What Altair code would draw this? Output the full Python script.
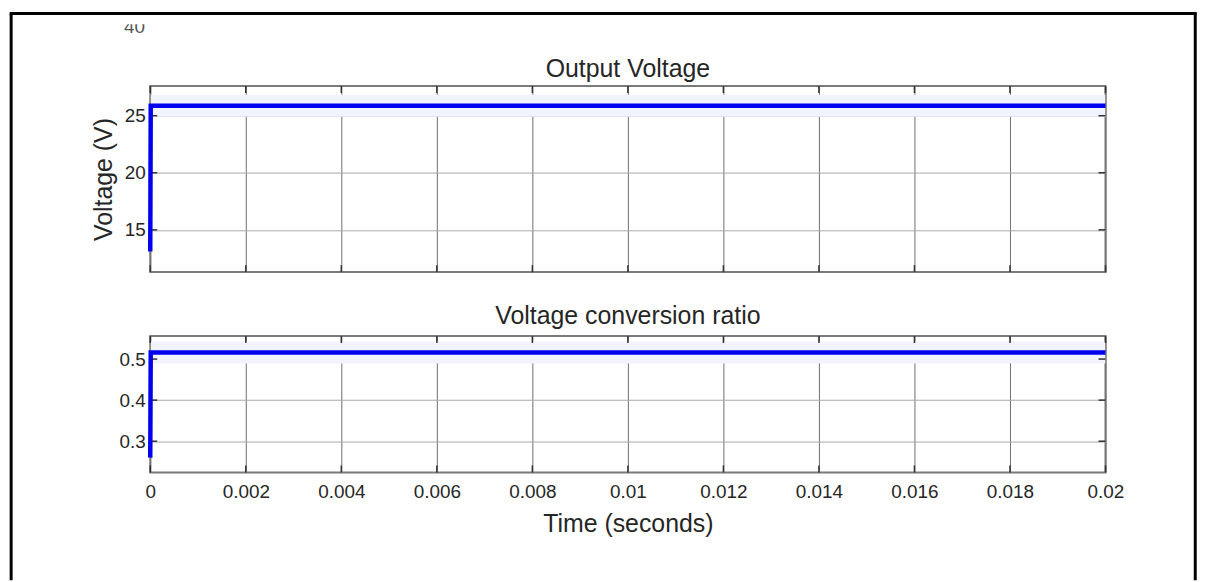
import altair as alt
import pandas as pd

# ---- data ----
time_s = [0.0, 0.00001, 0.02]
voltage = [13.1, 25.87, 25.87]
ratio = [0.26, 0.516, 0.516]

x_ticks = [0, 0.002, 0.004, 0.006, 0.008, 0.01, 0.012, 0.014, 0.016, 0.018, 0.02]
v_ticks = [15, 20, 25]
r_ticks = [0.3, 0.4, 0.5]

v_domain = [11.3, 27.6]
r_domain = [0.224, 0.556]

title_top = "Output Voltage"
title_bot = "Voltage conversion ratio"

W = 960
H_TOP = 187
H_BOT = 137
FONT = "Liberation Sans"
LINE_COLOR = "#0000ee"
HALO = "#f1f3fe"
GRID_X = "#6e6e6e"
GRID_Y = "#a8a8a8"
TEXT = "#262626"

df_v = pd.DataFrame({"t": time_s, "v": voltage})
df_r = pd.DataFrame({"t": time_s, "r": ratio})
df_xt = pd.DataFrame({"t": x_ticks})
df_vt = pd.DataFrame({"v": v_ticks})
df_rt = pd.DataFrame({"r": r_ticks})
one = pd.DataFrame({"k": [0]})

x_scale = alt.Scale(domain=[0, 0.02], nice=False, zero=False)
v_scale = alt.Scale(domain=v_domain, nice=False, zero=False)
r_scale = alt.Scale(domain=r_domain, nice=False, zero=False)

x_axis_top = alt.Axis(values=x_ticks, labels=False, ticks=False, domain=False, title=None,
                      grid=True, gridColor=GRID_X, gridWidth=1, gridOpacity=1)
x_axis_bot = alt.Axis(values=x_ticks, labelExpr="format(datum.value, '~g')", ticks=False,
                      domain=False, grid=True, gridColor=GRID_X, gridWidth=1, gridOpacity=1,
                      title="Time (seconds)", labelFontSize=19, labelFont=FONT, labelColor=TEXT,
                      labelPadding=10, titleFontSize=25, titleFont=FONT, titleFontWeight="normal",
                      titleColor=TEXT, titlePadding=10, labelFlush=False)


def y_axis(vals, title=None):
    kw = dict(values=vals, ticks=False, domain=False, grid=True, gridColor=GRID_Y,
              gridWidth=1, gridOpacity=1, labelFontSize=19, labelFont=FONT, labelColor=TEXT,
              labelPadding=5, labelFlush=False)
    if title is not None:
        kw.update(title=title, titleFontSize=25, titleFont=FONT, titleFontWeight="normal",
                  titleColor=TEXT, titlePadding=8)
    else:
        kw.update(title=None)
    return alt.Axis(**kw)


def tick_layers(df, field, h):
    enc_y = alt.Y(f"{field}:Q")
    return [
        alt.Chart(df).mark_rule(color="#333", strokeWidth=1.5).encode(
            y=enc_y, x=alt.value(W - 7), x2=alt.value(W)),
        alt.Chart(df).mark_rule(color="#333", strokeWidth=1.5).encode(
            y=enc_y, x=alt.value(0), x2=alt.value(7)),
        alt.Chart(df_xt).mark_rule(color="#333", strokeWidth=1.5).encode(
            x="t:Q", y=alt.value(0), y2=alt.value(7)),
        alt.Chart(df_xt).mark_rule(color="#333", strokeWidth=1.5).encode(
            x="t:Q", y=alt.value(h - 7), y2=alt.value(h)),
    ]


def panel_title(text, dy):
    return alt.Chart(one).mark_text(text=text, font=FONT, fontSize=25, color=TEXT,
                                    align="center", baseline="alphabetic").encode(
        x=alt.value(W / 2), y=alt.value(dy))


# ---------------- top panel ----------------
v_halo = alt.Chart(df_v).transform_filter("datum.t > 0").mark_line(
    color=HALO, strokeWidth=22, clip=True).encode(
    x=alt.X("t:Q", scale=x_scale, axis=x_axis_top),
    y=alt.Y("v:Q", scale=v_scale, axis=y_axis(v_ticks, "Voltage (V)")),
)
v_line = alt.Chart(df_v).mark_line(color=LINE_COLOR, strokeWidth=4.5).encode(
    x=alt.X("t:Q", scale=x_scale),
    y=alt.Y("v:Q", scale=v_scale),
)

# page frame and stray label (decoration)
frame_l = alt.Chart(one).mark_rule(color="black", strokeWidth=3).encode(
    x=alt.value(-139.8), y=alt.value(-72.8), y2=alt.value(496.7))
frame_t = alt.Chart(one).mark_rule(color="black", strokeWidth=3).encode(
    x=alt.value(-141.3), x2=alt.value(1051.7), y=alt.value(-72.8))
frame_r = alt.Chart(one).mark_rule(color="black", strokeWidth=3).encode(
    x=alt.value(1050.2), y=alt.value(-72.8), y2=alt.value(496.7))
stray = alt.Chart(one).mark_text(text="40", font=FONT, fontSize=19, color="#555555",
                                 align="right", baseline="alphabetic").encode(
    x=alt.value(-5.3), y=alt.value(-53.3))
stray_cover = alt.Chart(one).mark_rect(color="white").encode(
    x=alt.value(-40), x2=alt.value(-1), y=alt.value(-70.5), y2=alt.value(-62))

top = alt.layer(
    v_halo, *tick_layers(df_vt, "v", H_TOP), v_line,
    panel_title(title_top, -9.3),
    frame_l, frame_t, frame_r, stray, stray_cover,
).properties(width=W, height=H_TOP)

# ---------------- bottom panel ----------------
r_halo = alt.Chart(df_r).transform_filter("datum.t > 0").mark_line(
    color=HALO, strokeWidth=22, clip=True).encode(
    x=alt.X("t:Q", scale=x_scale, axis=x_axis_bot),
    y=alt.Y("r:Q", scale=r_scale, axis=y_axis(r_ticks)),
)
r_line = alt.Chart(df_r).mark_line(color=LINE_COLOR, strokeWidth=4.5).encode(
    x=alt.X("t:Q", scale=x_scale),
    y=alt.Y("r:Q", scale=r_scale),
)

bottom = alt.layer(
    r_halo, *tick_layers(df_rt, "r", H_BOT), r_line,
    panel_title(title_bot, -11.7),
).properties(width=W, height=H_BOT)

chart = alt.vconcat(top, bottom, spacing=64.3, bounds="flush").properties(
    padding={"left": 7, "top": 9, "right": 5, "bottom": 0},
    background="white",
).configure_view(
    stroke="#7a7a7a", strokeWidth=2,
).configure_axis(
    labelFont=FONT, titleFont=FONT,
)

chart.save("out.html", embed_options={"renderer": "svg", "actions": False})
